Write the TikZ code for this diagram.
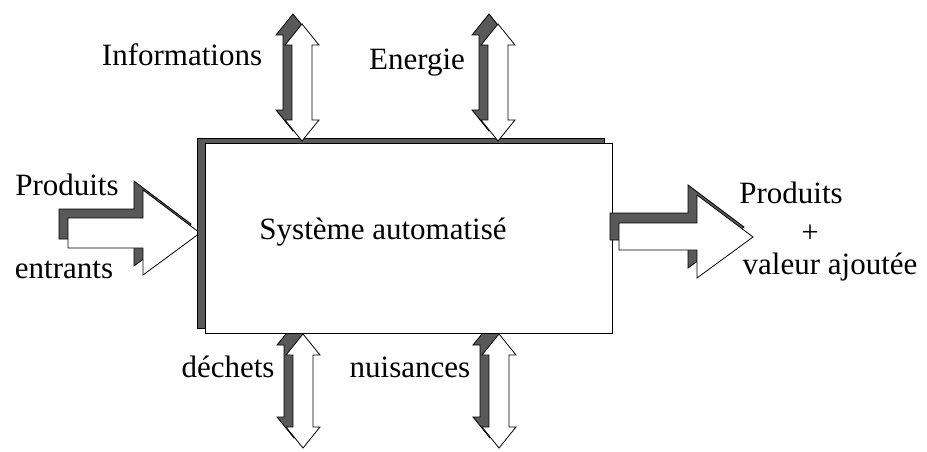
\documentclass[tikz,border=0pt]{standalone}
\usepackage{fontspec}
\setmainfont{Liberation Serif}
\usetikzlibrary{positioning}

\begin{document}
\begin{tikzpicture}[x=1pt, y=-1pt,
  lbl/.style={font=\fontsize{31}{33}\selectfont, anchor=base, inner sep=0pt},
  box/.style={rectangle, draw=black, line width=0.9pt, minimum width=407pt,
              minimum height=190pt, inner sep=0pt},
  flow/.style={draw=black, line width=0.8pt, fill=white},
  shade/.style={draw=black, line width=0.8pt, fill=black!65}
]
\useasboundingbox (0,0) rectangle (927,452);

% Sorties du bas: dechets, nuisances
\foreach \cx in {303,499} {
  \draw[shade, shift={(-9,-10)}] (\cx,334) -- ++(17,21) -- ++(-7,0) -- ++(0,72) -- ++(7,0)
    -- (\cx,448) -- ++(-17,-21) -- ++(7,0) -- ++(0,-72) -- ++(-7,0) -- cycle;
  \draw[flow] (\cx,334) -- ++(17,21) -- ++(-7,0) -- ++(0,72) -- ++(7,0)
    -- (\cx,448) -- ++(-17,-21) -- ++(7,0) -- ++(0,-72) -- ++(-7,0) -- cycle;
}

% Produits entrants
\draw[shade, shift={(-9,-9)}] (68,218) -- (143,218) -- (143,190) -- (200,233)
  -- (143,275) -- (143,248) -- (68,248) -- cycle;
\draw[flow] (68,218) -- (143,218) -- (143,190) -- (200,233)
  -- (143,275) -- (143,248) -- (68,248) -- cycle;

% Systeme
\node[box, fill=black!65] (sysshadow) at (401,233) {};
\node[box, fill=white] (sys) at (408.5,238) {};
\node[lbl] (systxt) at (383,239) {Système automatisé};

% Entrees du haut: informations, energie
\foreach \cx in {302,498} {
  \draw[shade, shift={(-9,-10)}] (\cx,24) -- ++(17,21) -- ++(-7,0) -- ++(0,75) -- ++(7,0)
    -- (\cx,141) -- ++(-17,-21) -- ++(7,0) -- ++(0,-75) -- ++(-7,0) -- cycle;
  \draw[flow] (\cx,24) -- ++(17,21) -- ++(-7,0) -- ++(0,75) -- ++(7,0)
    -- (\cx,141) -- ++(-17,-21) -- ++(7,0) -- ++(0,-75) -- ++(-7,0) -- cycle;
}

% Produits + valeur ajoutee
\draw[shade, shift={(-9,-10)}] (619,223) -- (697,223) -- (697,195) -- (753,237)
  -- (697,278) -- (697,250) -- (619,250) -- cycle;
\draw[flow] (619,223) -- (697,223) -- (697,195) -- (753,237)
  -- (697,278) -- (697,250) -- (619,250) -- cycle;

% Textes
\node[lbl] (info) at (182,66) {Informations};
\node[lbl] (energie) at (417,70) {Energie};
\node[lbl] (prodin) at (67,195) {Produits};
\node[lbl] (entrants) at (64,278) {entrants};
\node[lbl] (prodout) at (791,203) {Produits};
\node[lbl] (plus) at (810,242) {+};
\node[lbl] (valeur) at (830,274) {valeur ajoutée};
\node[lbl] (dechets) at (228,377) {déchets};
\node[lbl] (nuisances) at (410,377) {nuisances};

\end{tikzpicture}
\end{document}
